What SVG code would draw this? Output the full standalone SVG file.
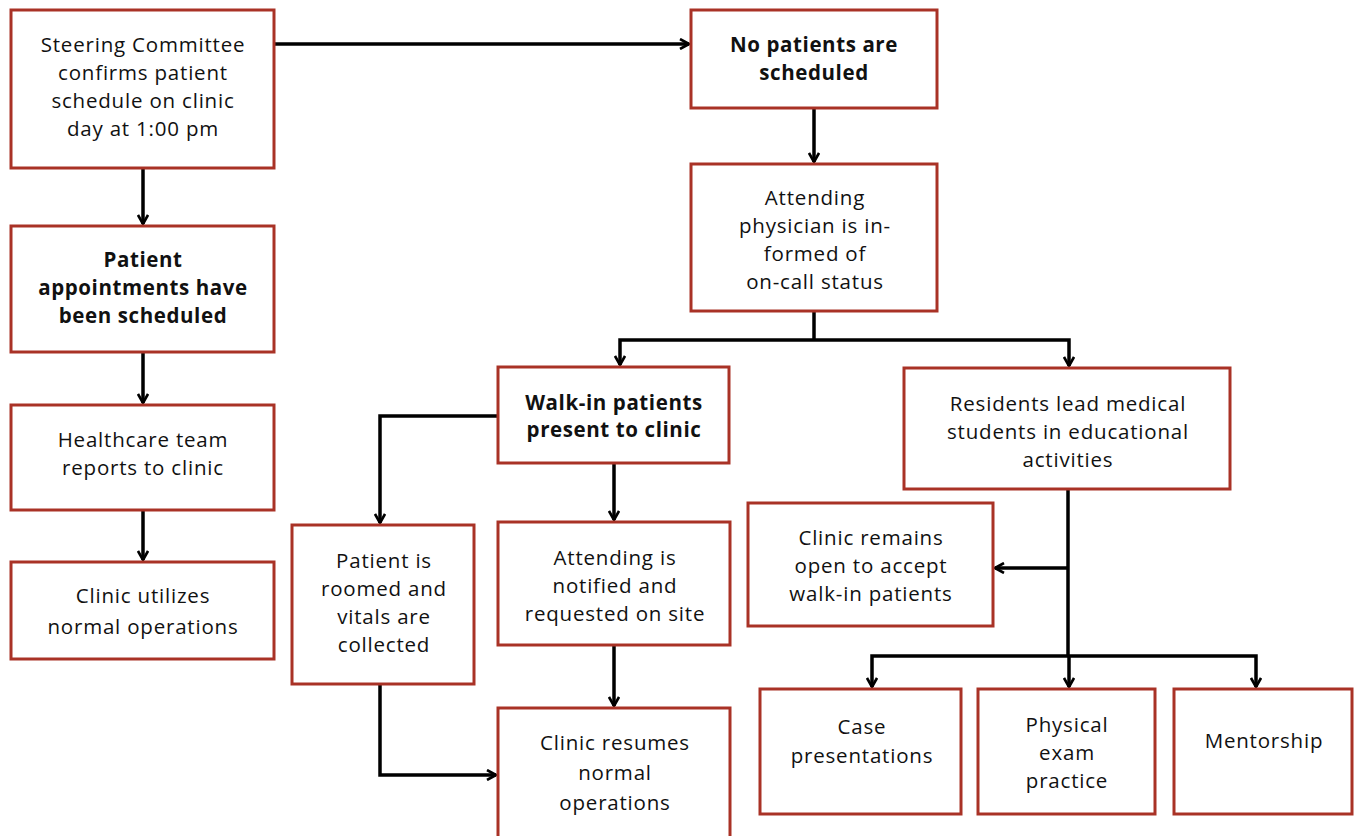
<svg xmlns="http://www.w3.org/2000/svg" width="1355" height="836" viewBox="0 0 1355 836">
<style>
.box{fill:#fff;stroke:#A93226;stroke-width:3}
.t{font-family:"Open Sans","Noto Sans",sans-serif;font-size:20.5px;letter-spacing:0.8px;fill:#111;text-anchor:middle}
.b{font-weight:bold;letter-spacing:0.6px}
.c{fill:none;stroke:#000;stroke-width:3.5;marker-end:url(#ah)}
.l{fill:none;stroke:#000;stroke-width:3.5}
</style>
<defs>
<marker id="ah" viewBox="0 0 12 12" refX="10" refY="6" markerWidth="12" markerHeight="12" markerUnits="userSpaceOnUse" orient="auto">
<path d="M1,1 L10,6 L1,11" fill="none" stroke="#000" stroke-width="2.6"/>
</marker>
</defs>
<rect width="1355" height="836" fill="#fff"/>
<g id="connectors">
<path class="c" d="M274,44 H689"/>
<path class="c" d="M143,168 V224"/>
<path class="c" d="M143,352 V403"/>
<path class="c" d="M143,510 V560"/>
<path class="c" d="M814,108 V162"/>
<path class="l" d="M814,311 V340"/>
<path class="c" d="M814,340 H620 V365"/>
<path class="c" d="M814,340 H1069 V366"/>
<path class="c" d="M498,416 H380 V523"/>
<path class="c" d="M614,463 V520"/>
<path class="c" d="M614,645 V706"/>
<path class="c" d="M380,684 V775 H496"/>
<path class="l" d="M1068,489 V656"/>
<path class="c" d="M1068,568 H995"/>
<path class="c" d="M1068,656 H872 V687"/>
<path class="c" d="M1068,656 H1256 V687"/>
<path class="c" d="M1069,656 V687"/>
</g>
<g id="n1"><rect class="box" x="11" y="10" width="263" height="158"/>
<text class="t" x="143" y="52">Steering Committee</text><text class="t" x="143" y="80">confirms patient</text><text class="t" x="143" y="108">schedule on clinic</text><text class="t" x="143" y="136">day at 1:00 pm</text></g>
<g id="n2"><rect class="box" x="11" y="226" width="263" height="126"/>
<text class="t b" x="143" y="267">Patient</text><text class="t b" x="143" y="295">appointments have</text><text class="t b" x="143" y="323">been scheduled</text></g>
<g id="n3"><rect class="box" x="11" y="405" width="263" height="105"/>
<text class="t" x="143" y="447">Healthcare team</text><text class="t" x="143" y="475">reports to clinic</text></g>
<g id="n4"><rect class="box" x="11" y="562" width="263" height="97"/>
<text class="t" x="143" y="603">Clinic utilizes</text><text class="t" x="143" y="634">normal operations</text></g>
<g id="n5"><rect class="box" x="691" y="10" width="246" height="98"/>
<text class="t b" x="814" y="52">No patients are</text><text class="t b" x="814" y="80">scheduled</text></g>
<g id="n6"><rect class="box" x="691" y="164" width="246" height="147"/>
<text class="t" x="815" y="205">Attending</text><text class="t" x="815" y="233">physician is in-</text><text class="t" x="815" y="261">formed of</text><text class="t" x="815" y="289">on-call status</text></g>
<g id="n7"><rect class="box" x="498" y="367" width="231" height="96"/>
<text class="t b" x="614" y="410">Walk-in patients</text><text class="t b" x="614" y="437">present to clinic</text></g>
<g id="n8"><rect class="box" x="904" y="368" width="326" height="121"/>
<text class="t" x="1068" y="411">Residents lead medical</text><text class="t" x="1068" y="439">students in educational</text><text class="t" x="1068" y="467">activities</text></g>
<g id="n9"><rect class="box" x="292" y="525" width="182" height="159"/>
<text class="t" x="384" y="568">Patient is</text><text class="t" x="384" y="596">roomed and</text><text class="t" x="384" y="624">vitals are</text><text class="t" x="384" y="652">collected</text></g>
<g id="n10"><rect class="box" x="498" y="522" width="232" height="123"/>
<text class="t" x="615" y="565">Attending is</text><text class="t" x="615" y="593">notified and</text><text class="t" x="615" y="621">requested on site</text></g>
<g id="n11"><rect class="box" x="498" y="708" width="232" height="140"/>
<text class="t" x="615" y="750">Clinic resumes</text><text class="t" x="615" y="780">normal</text><text class="t" x="615" y="810">operations</text></g>
<g id="n12"><rect class="box" x="748" y="503" width="245" height="123"/>
<text class="t" x="871" y="545">Clinic remains</text><text class="t" x="871" y="573">open to accept</text><text class="t" x="871" y="601">walk-in patients</text></g>
<g id="n13"><rect class="box" x="760" y="689" width="201" height="125"/>
<text class="t" x="862" y="734">Case</text><text class="t" x="862" y="763">presentations</text></g>
<g id="n14"><rect class="box" x="978" y="689" width="177" height="125"/>
<text class="t" x="1067" y="732">Physical</text><text class="t" x="1067" y="760">exam</text><text class="t" x="1067" y="788">practice</text></g>
<g id="n15"><rect class="box" x="1174" y="689" width="178" height="125"/>
<text class="t" x="1264" y="748">Mentorship</text></g>
</svg>
